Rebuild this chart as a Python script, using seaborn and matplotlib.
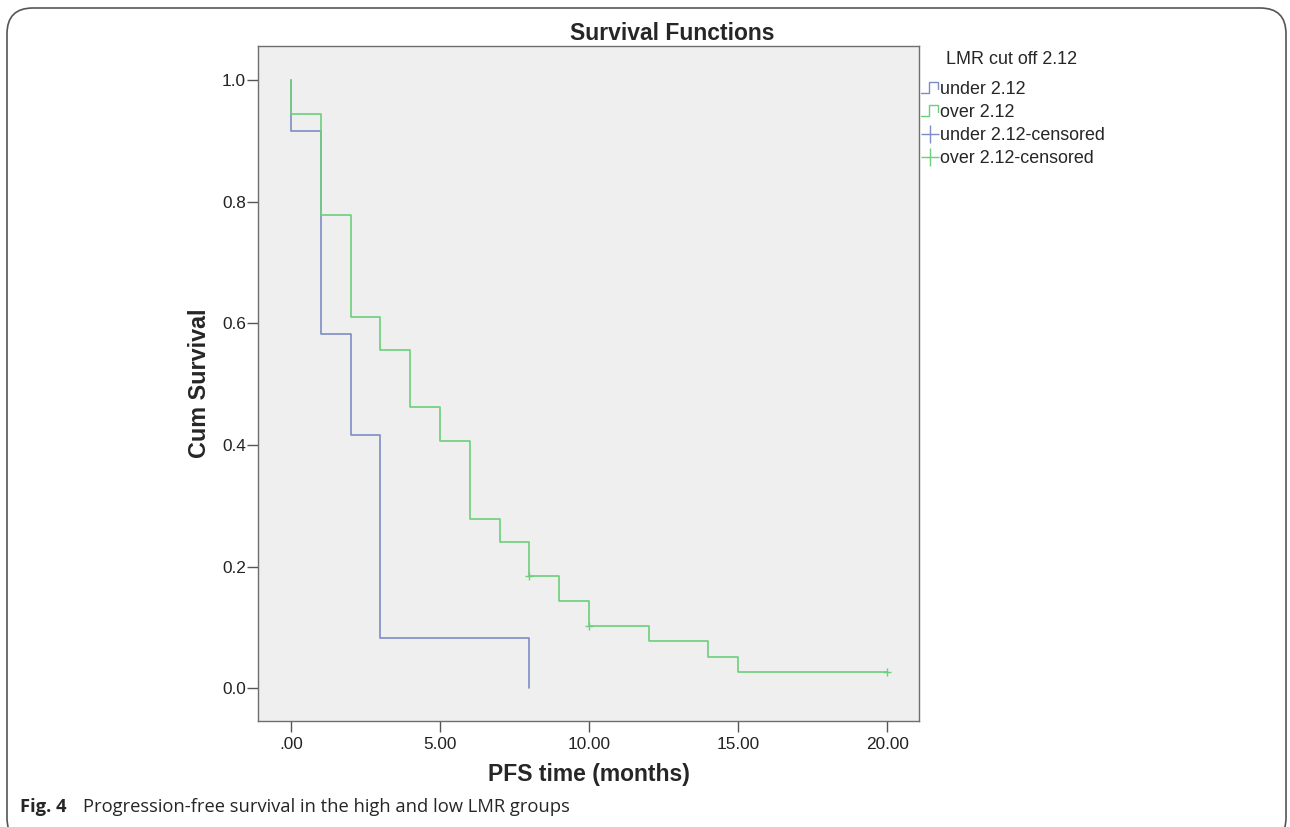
import numpy as np
import pandas as pd
import matplotlib
matplotlib.use("Agg")
import matplotlib.pyplot as plt
import seaborn as sns
from matplotlib.lines import Line2D
from matplotlib.patches import FancyBboxPatch
from matplotlib.legend_handler import HandlerBase

# Kaplan-Meier step data
under_time = [0, 0, 1, 2, 3, 8]
under_surv = [1.0, 0.917, 0.583, 0.417, 0.083, 0.0]
over_time = [0, 0, 1, 2, 3, 4, 5, 6, 7, 8, 9, 10, 12, 14, 15, 20]
over_surv = [1.0, 0.944, 0.778, 0.611, 0.556, 0.463, 0.407, 0.278, 0.241,
             0.185, 0.144, 0.103, 0.077, 0.051, 0.026, 0.026]
over_cens_time = [8, 10, 20]
over_cens_surv = [0.185, 0.103, 0.026]

x_ticks = [0, 5, 10, 15, 20]
x_tick_labels = [".00", "5.00", "10.00", "15.00", "20.00"]
y_ticks = [0.0, 0.2, 0.4, 0.6, 0.8, 1.0]
group_labels = ["under 2.12", "over 2.12"]

BLUE = "#7d8cc4"
GREEN = "#6ccf7b"

df = pd.concat([
    pd.DataFrame({"time": under_time, "surv": under_surv, "group": group_labels[0]}),
    pd.DataFrame({"time": over_time, "surv": over_surv, "group": group_labels[1]}),
])
cens = pd.DataFrame({"time": over_cens_time, "surv": over_cens_surv})

sns.set_style("white")
plt.rcParams["font.family"] = ["Liberation Sans", "DejaVu Sans"]

fig = plt.figure(figsize=(12.9, 8.27), dpi=100)
ax = fig.add_axes([0.2, 0.1282, 0.5124, 0.8162])
ax.set_facecolor("#efefef")

sns.lineplot(data=df, x="time", y="surv", hue="group",
             palette={group_labels[0]: BLUE, group_labels[1]: GREEN},
             estimator=None, sort=False, drawstyle="steps-post",
             linewidth=1.2, legend=False, ax=ax)
sns.scatterplot(data=cens, x="time", y="surv", marker="+", s=30,
                color=GREEN, linewidth=1.0, legend=False, ax=ax, zorder=3)

ax.set_xlim(-1.107, 21.07)
ax.set_ylim(-0.054, 1.056)
ax.set_xticks(x_ticks)
ax.set_xticklabels(x_tick_labels)
ax.set_yticks(y_ticks)
ax.set_yticklabels([f"{v:.1f}" for v in y_ticks])
ax.tick_params(axis="both", direction="out", length=8, width=1, color="#555555",
               labelsize=12.4, labelcolor="#222222", left=True, bottom=True)
ax.tick_params(axis="x", pad=3.6)
ax.tick_params(axis="y", pad=0.8)
for sp in ax.spines.values():
    sp.set_color("#6e6e6e")
    sp.set_linewidth(1.0)

ax.set_xlabel("PFS time (months)", fontsize=16.5, fontweight="bold", labelpad=8)
ax.set_ylabel("Cum Survival", fontsize=16.8, fontweight="bold", labelpad=8)
fig.text(672 / 1290, 1 - 33 / 827, "Survival Functions", fontsize=16.5,
         fontweight="bold", ha="center", va="center")


class StepHandler(HandlerBase):
    def create_artists(self, legend, orig_handle, xdescent, ydescent,
                       width, height, fontsize, trans):
        w = width
        xs = [0, w * 0.45, w * 0.45, w * 0.95, w * 0.95]
        ys = [0.05, 0.05, 0.95, 0.95, 0.35]
        ln = Line2D([x - xdescent for x in xs], [y * height - ydescent for y in ys],
                    color=orig_handle.get_color(), linewidth=1.0, transform=trans)
        return [ln]


h_under = Line2D([], [], color=BLUE)
h_over = Line2D([], [], color=GREEN)
h_uc = Line2D([], [], color=BLUE, marker="+", linestyle="none", markersize=13,
              markeredgewidth=1.0)
h_oc = Line2D([], [], color=GREEN, marker="+", linestyle="none", markersize=13,
              markeredgewidth=1.0)
fig.text(946 / 1290, 1 - 60 / 827, "LMR cut off 2.12", fontsize=12.9,
         ha="left", va="center")
leg = fig.legend([h_under, h_over, h_uc, h_oc],
                 ["under 2.12", "over 2.12", "under 2.12-censored", "over 2.12-censored"],
                 handler_map={h_under: StepHandler(), h_over: StepHandler()},
                 loc="upper left",
                 bbox_to_anchor=(917 / 1290, 1 - 77 / 827),
                 frameon=False, fontsize=12.9,
                 handlelength=1.0, handletextpad=0.1, labelspacing=0.35,
                 borderaxespad=0, borderpad=0.2)

# outer rounded frame of the figure panel
frame = FancyBboxPatch((7 / 1290, -0.02), 1279 / 1290, 1 - 8 / 827 + 0.02,
                       boxstyle="round,pad=0,rounding_size=0.02",
                       transform=fig.transFigure, fill=False,
                       edgecolor="#555555", linewidth=1.2, mutation_aspect=1290 / 827)
fig.patches.append(frame)

fig.text(20 / 1290, 1 - 807 / 827, "Fig. 4", fontsize=13.2, fontweight="bold",
         family=["Open Sans", "DejaVu Sans"], va="center", ha="left")
fig.text(83 / 1290, 1 - 807 / 827, "Progression-free survival in the high and low LMR groups",
         fontsize=13.2, family=["Open Sans", "DejaVu Sans"], va="center", ha="left")

fig.savefig("out.png", dpi=100)
